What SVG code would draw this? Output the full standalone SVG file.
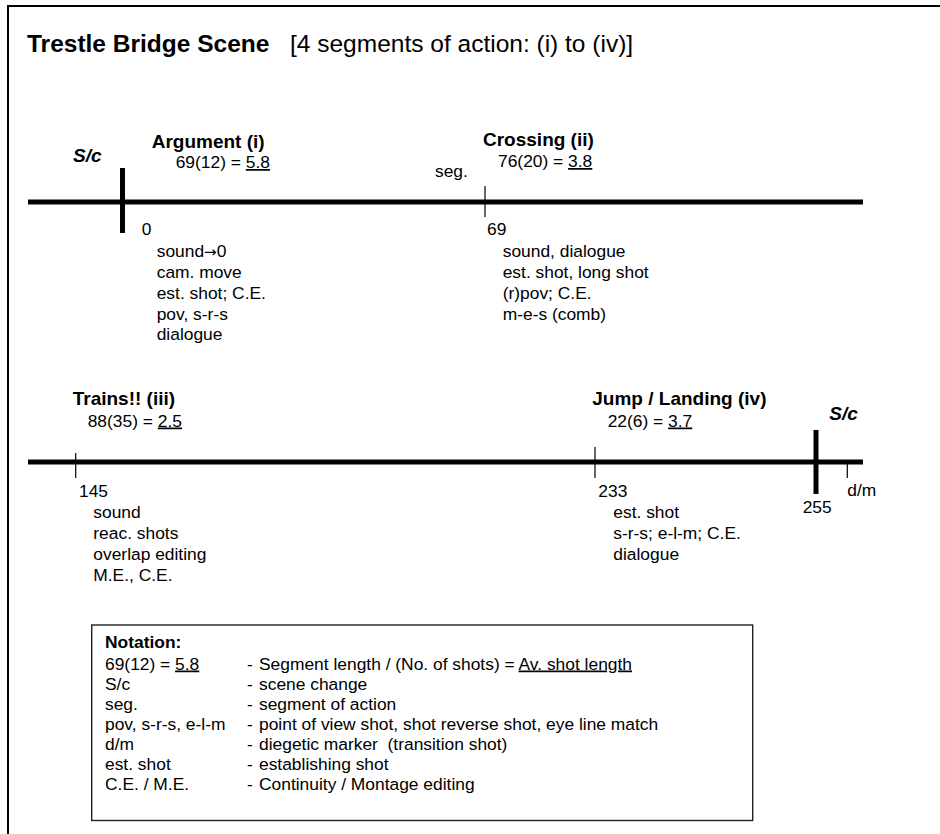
<svg xmlns="http://www.w3.org/2000/svg" width="940" height="834" viewBox="0 0 940 834">
<style>
text{font-family:"Liberation Sans",Arial,sans-serif;fill:#000}
.t{font-size:24.5px}
.tb{font-size:24.5px;font-weight:bold}
.h{font-size:19px;font-weight:bold}
.sc{font-size:19px;font-weight:bold;font-style:italic}
.r{font-size:17.4px}
.nb{font-size:17.4px;font-weight:bold}
.u{text-decoration:underline}
.arr{font-family:"DejaVu Sans",sans-serif;font-size:15px}
.axis{stroke:#000;stroke-width:5}
.big{stroke:#000;stroke-width:5}
.tick{stroke:#000;stroke-width:1.2}
</style>
<rect width="940" height="834" fill="#fff"/>
<g id="frame" fill="none" stroke="#000" stroke-width="2">
<line x1="8" y1="6" x2="940" y2="6"/>
<line x1="8" y1="5" x2="8" y2="834"/>
</g>
<g id="title">
<text class="tb" x="27" y="52">Trestle Bridge Scene</text>
<text class="t" x="290" y="52">[4 segments of action: (i) to (iv)]</text>
</g>
<g id="connectors">
<line class="axis" x1="28" y1="202" x2="863" y2="202"/>
<line class="axis" x1="28" y1="462" x2="863" y2="462"/>
</g>
<g id="sc-start">
<text class="sc" x="73" y="162">S/c</text>
<line class="big" x1="122.5" y1="168" x2="122.5" y2="233"/>
</g>
<g id="seg-argument">
<text class="h" x="151.7" y="148">Argument (i)</text>
<text class="r" x="175.7" y="168">69(12) = <tspan class="u">5.8</tspan></text>
<text class="r" x="141.7" y="235">0</text>
<text class="r" x="156.7" y="256.5">sound<tspan class="arr">→</tspan>0</text>
<text class="r" x="156.7" y="277.5">cam. move</text>
<text class="r" x="156.7" y="298.5">est. shot; C.E.</text>
<text class="r" x="156.7" y="319.5">pov, s-r-s</text>
<text class="r" x="156.7" y="340">dialogue</text>
</g>
<g id="seg-label">
<text class="r" x="435" y="177">seg.</text>
</g>
<g id="seg-crossing">
<text class="h" x="483" y="146">Crossing (ii)</text>
<text class="r" x="498" y="167">76(20) = <tspan class="u">3.8</tspan></text>
<line class="tick" x1="485" y1="186" x2="485" y2="217"/>
<text class="r" x="487" y="235">69</text>
<text class="r" x="502.7" y="256.5">sound, dialogue</text>
<text class="r" x="502.7" y="277.5">est. shot, long shot</text>
<text class="r" x="502.7" y="298.5">(r)pov; C.E.</text>
<text class="r" x="502.7" y="319.5">m-e-s (comb)</text>
</g>
<g id="seg-trains">
<text class="h" x="72.7" y="405">Trains!! (iii)</text>
<text class="r" x="87.7" y="426.5">88(35) = <tspan class="u">2.5</tspan></text>
<line class="tick" x1="75.7" y1="453" x2="75.7" y2="478"/>
<text class="r" x="79" y="496.5">145</text>
<text class="r" x="93.3" y="517.5">sound</text>
<text class="r" x="93.3" y="538.5">reac. shots</text>
<text class="r" x="93.3" y="559.5">overlap editing</text>
<text class="r" x="93.3" y="580.5">M.E., C.E.</text>
</g>
<g id="seg-jump">
<text class="h" x="592.3" y="405">Jump / Landing (iv)</text>
<text class="r" x="607.7" y="426.5">22(6) = <tspan class="u">3.7</tspan></text>
<line class="tick" x1="595" y1="447" x2="595" y2="478"/>
<text class="r" x="598.3" y="496.5">233</text>
<text class="r" x="613.3" y="517.5">est. shot</text>
<text class="r" x="613.3" y="538.5">s-r-s; e-l-m; C.E.</text>
<text class="r" x="613.3" y="559.5">dialogue</text>
</g>
<g id="sc-end">
<text class="sc" x="829.3" y="420">S/c</text>
<line class="big" x1="816" y1="430" x2="816" y2="494"/>
<text class="r" x="802.7" y="512.7">255</text>
</g>
<g id="dm-marker">
<line class="tick" x1="847.3" y1="462" x2="847.3" y2="478"/>
<text class="r" x="847.3" y="496">d/m</text>
</g>
<g id="notation">
<rect x="91.7" y="625" width="661" height="195.5" fill="none" stroke="#222" stroke-width="1.4"/>
<text class="nb" x="105" y="648">Notation:</text>
<text class="r" x="105" y="669.5">69(12) = <tspan class="u">5.8</tspan></text>
<text class="r" x="105" y="690">S/c</text>
<text class="r" x="105" y="710">seg.</text>
<text class="r" x="105" y="730">pov, s-r-s, e-l-m</text>
<text class="r" x="105" y="750">d/m</text>
<text class="r" x="105" y="770">est. shot</text>
<text class="r" x="105" y="790">C.E. / M.E.</text>
<text class="r" x="247" y="669.5">-</text>
<text class="r" x="247" y="690">-</text>
<text class="r" x="247" y="710">-</text>
<text class="r" x="247" y="730">-</text>
<text class="r" x="247" y="750">-</text>
<text class="r" x="247" y="770">-</text>
<text class="r" x="247" y="790">-</text>
<text class="r" x="259" y="669.5">Segment length / (No. of shots) = <tspan class="u">Av. shot length</tspan></text>
<text class="r" x="259" y="690">scene change</text>
<text class="r" x="259" y="710">segment of action</text>
<text class="r" x="259" y="730">point of view shot, shot reverse shot, eye line match</text>
<text class="r" x="259" y="750" xml:space="preserve">diegetic marker  (transition shot)</text>
<text class="r" x="259" y="770">establishing shot</text>
<text class="r" x="259" y="790">Continuity / Montage editing</text>
</g>
</svg>
